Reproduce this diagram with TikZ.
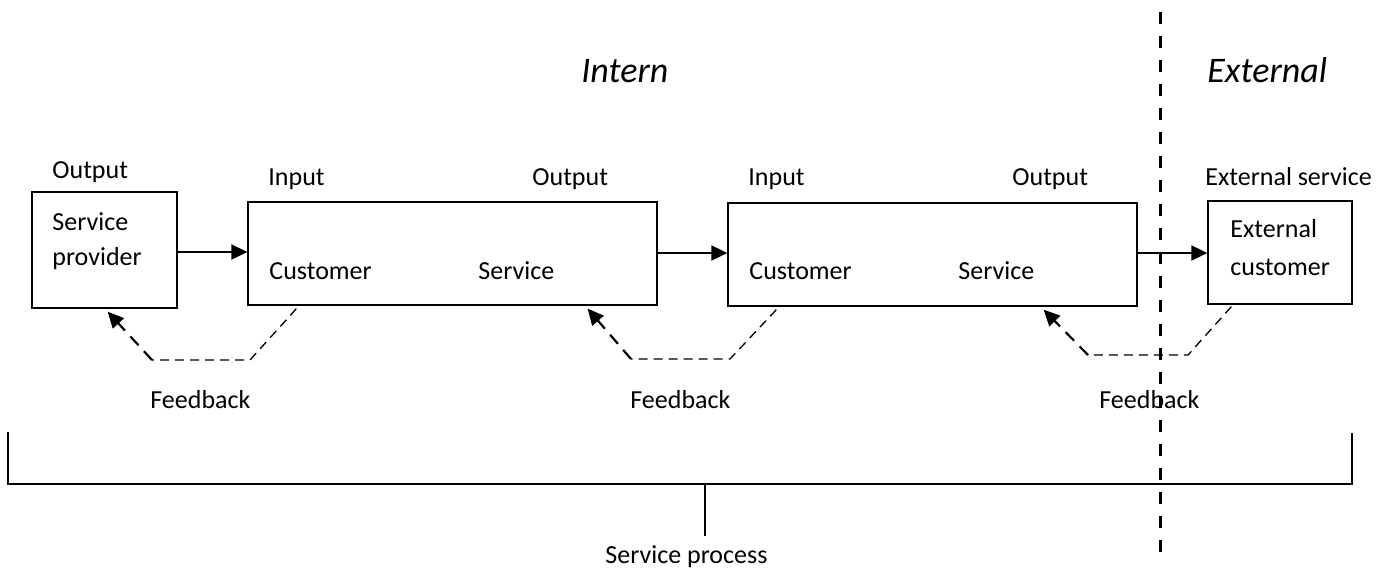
\documentclass[tikz,border=0pt]{standalone}
\usepackage{fontspec}
\setmainfont{Carlito}
\usetikzlibrary{arrows.meta}
\usetikzlibrary{calc}

\begin{document}
\begin{tikzpicture}[x=0.5pt,y=-0.5pt,
    box/.style={draw,line width=0.65pt,inner sep=0pt},
    lbl/.style={inner sep=0pt,anchor=base west,font=\fontsize{13}{16}\selectfont},
    heading/.style={inner sep=0pt,anchor=base west,font=\fontsize{18}{22}\selectfont\itshape},
    flow/.style={line width=1pt,-{Triangle[length=8pt,width=7.5pt]}},
    fb/.style={line width=0.65pt,dash pattern=on 4.5pt off 3pt},
    fb arrow/.style={line width=1.1pt,dash pattern=on 6pt off 4pt,-{Triangle[length=8pt,width=7.5pt]}},
    border/.style={line width=0.75pt},
    split/.style={line width=1.5pt,dash pattern=on 6pt off 6pt}]
    \useasboundingbox (0,0) rectangle (1378,570);
    % boxes
    \node [box,minimum width=72.5pt,minimum height=58pt] (prov) at (104.5,250) {};
    \node [box,minimum width=204.5pt,minimum height=51.5pt] (box1) at (452.5,253.5) {};
    \node [box,minimum width=204.5pt,minimum height=51.5pt] (box2) at (932.5,254.5) {};
    \node [box,minimum width=72pt,minimum height=51.5pt] (ext) at (1280,252.5) {};
    % texts
    \node [lbl] (provout) at (52,178) {Output};
    \node [lbl] (provA) at (52,230) {Service};
    \node [lbl] (provB) at (52,265) {provider};
    \node [lbl] (in1) at (268,185) {Input};
    \node [lbl] (out1) at (532,185) {Output};
    \node [lbl] (cust1) at (269,279) {Customer};
    \node [lbl] (serv1) at (478,279) {Service};
    \node [lbl] (in2) at (748,185) {Input};
    \node [lbl] (out2) at (1012,185) {Output};
    \node [lbl] (cust2) at (749,279) {Customer};
    \node [lbl] (serv2) at (958,279) {Service};
    \node [lbl] (extserv) at (1205,185) {External service};
    \node [lbl] (extA) at (1230,237) {External};
    \node [lbl] (extB) at (1230,275) {customer};
    \node [heading] (intern) at (581,82) {Intern};
    \node [heading] (external) at (1207,82) {External};
    \node [lbl] (fbl1) at (150,408) {Feedback};
    \node [lbl] (fbl2) at (630,408) {Feedback};
    \node [lbl] (fbl3) at (1099,408) {Feedback};
    \node [lbl] (process) at (605,563) {Service process};
    % flow
    \draw [flow] (prov.east |- 0,252) -- (box1.west |- 0,252);
    \draw [flow] (box1.east |- 0,253) -- (box2.west |- 0,253);
    \draw [flow] (box2.east |- 0,253) -- (ext.west |- 0,253);
    % feedback
    \coordinate (fb1a) at (250,360);
    \coordinate (fb1b) at (152,360);
    \coordinate (fb2a) at (730,359);
    \coordinate (fb2b) at (631,359);
    \coordinate (fb3a) at (1188,355);
    \coordinate (fb3b) at (1088,355);
    \draw [fb] ($(box1.south west)+(49,3)$) -- (fb1a) -- (fb1b);
    \draw [fb arrow] (fb1b) -- ($(prov.south east)+(-70,3)$);
    \draw [fb] ($(box2.south west)+(49,3)$) -- (fb2a) -- (fb2b);
    \draw [fb arrow] (fb2b) -- ($(box1.south east)+(-70,3)$);
    \draw [fb] ($(ext.south west)+(24,2)$) -- (fb3a) -- (fb3b);
    \draw [fb arrow] (fb3b) -- ($(box2.south east)+(-94,3)$);
    % bracket
    \coordinate (brl) at (8,432);
    \coordinate (brr) at (1352,433);
    \coordinate (brm) at (705,484);
    \draw [border] (brl) -- (brl |- brm) -- (brr |- brm) -- (brr);
    \draw [border] (brm) -- (brm |- 0,536);
    % intern / external
    \coordinate (splittop) at (1160,12);
    \coordinate (splitbot) at (1160,552);
    \draw [split] (splittop) -- (splitbot);
\end{tikzpicture}
\end{document}
